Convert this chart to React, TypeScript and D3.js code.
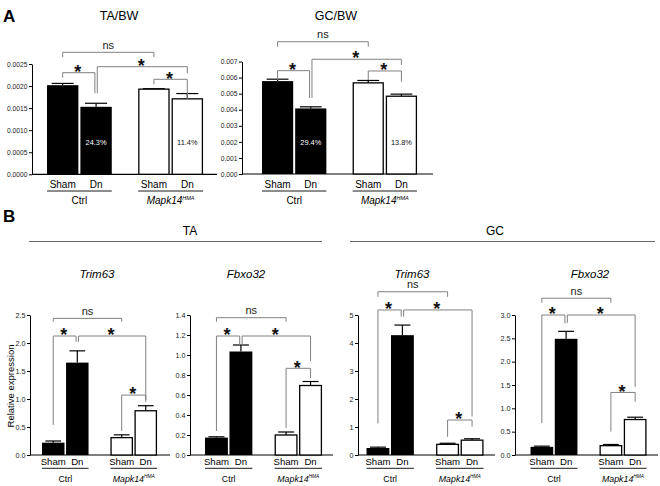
import { useEffect, useRef } from 'react';
import * as d3 from 'd3';

const GROUPS = ['Ctrl', 'Mapk14'];
const CONDITIONS = ['Sham', 'Dn'];

// A: muscle weight / body weight (Ctrl Sham, Ctrl Dn, Mapk14 Sham, Mapk14 Dn)
const TA_BW = [0.00202, 0.00153, 0.00193, 0.00171];
const TA_BW_SEM = [0.00004, 0.00008, 0.00001, 0.00012];
const TA_BW_LOSS = ['24.3%', '11.4%'];
const TA_BW_TICKS = [0, 0.0005, 0.001, 0.0015, 0.002, 0.0025];

const GC_BW = [0.00578, 0.00408, 0.00567, 0.00484];
const GC_BW_SEM = [0.00012, 0.0001, 0.00015, 0.00013];
const GC_BW_LOSS = ['29.4%', '13.8%'];
const GC_BW_TICKS = [0, 0.001, 0.002, 0.003, 0.004, 0.005, 0.006, 0.007];

// B: relative expression
const TA_TRIM63 = [0.22, 1.65, 0.31, 0.79];
const TA_TRIM63_SEM = [0.03, 0.21, 0.05, 0.09];
const TA_TRIM63_TICKS = [0, 0.5, 1, 1.5, 2, 2.5];

const TA_FBXO32 = [0.174, 1.035, 0.2, 0.695];
const TA_FBXO32_SEM = [0.008, 0.065, 0.03, 0.04];
const TA_FBXO32_TICKS = [0, 0.2, 0.4, 0.6, 0.8, 1, 1.2, 1.4];

const GC_TRIM63 = [0.25, 4.28, 0.38, 0.53];
const GC_TRIM63_SEM = [0.03, 0.36, 0.04, 0.05];
const GC_TRIM63_TICKS = [0, 1, 2, 3, 4, 5];

const GC_FBXO32 = [0.175, 2.49, 0.2, 0.76];
const GC_FBXO32_SEM = [0.015, 0.16, 0.025, 0.05];
const GC_FBXO32_TICKS = [0, 0.5, 1, 1.5, 2, 2.5, 3];

// brackets: [from bar, to bar, label, bracket level, left leg end, right leg end] (data units)
type Bracket = [number, number, string, number, number, number];
const TA_BW_BR: Bracket[] = [
  [0, 2, 'ns', 0.002765, 0.002659, 0.002659],
  [0, 1, '*', 0.002303, 0.00219, 0.001836],
  [1, 3, '*', 0.002439, 0.001836, 0.00229],
  [2, 3, '*', 0.002153, 0.00204, 0.001684],
];
const GC_BW_BR: Bracket[] = [
  [0, 2, 'ns', 0.00823, 0.00792, 0.00792],
  [0, 1, '*', 0.00643, 0.00585, 0.00473],
  [1, 3, '*', 0.00714, 0.00473, 0.00678],
  [2, 3, '*', 0.00641, 0.00585, 0.00574],
];
const TA_TRIM63_BR: Bracket[] = [
  [0, 2, 'ns', 2.44, 2.38, 2.38],
  [0, 1, '*', 2.125, 0.536, 2.02],
  [1, 3, '*', 2.125, 2.02, 0.95],
  [2, 3, '*', 1.07, 0.43, 0.98],
];
const TA_FBXO32_BR: Bracket[] = [
  [0, 2, 'ns', 1.373, 1.333, 1.333],
  [0, 1, '*', 1.19, 0.24, 1.1],
  [1, 3, '*', 1.19, 1.1, 0.94],
  [2, 3, '*', 0.867, 0.27, 0.77],
];
const GC_TRIM63_BR: Bracket[] = [
  [0, 2, 'ns', 5.83, 5.65, 5.65],
  [0, 1, '*', 5.18, 1.13, 4.94],
  [1, 3, '*', 5.18, 4.94, 1.37],
  [2, 3, '*', 1.25, 0.65, 1.01],
];
const GC_FBXO32_BR: Bracket[] = [
  [0, 2, 'ns', 3.36, 3.26, 3.26],
  [0, 1, '*', 3.0, 0.686, 2.82],
  [1, 3, '*', 3.0, 2.83, 1.46],
  [2, 3, '*', 1.34, 0.5, 1.14],
];

const FONT = '"Liberation Sans", Arial, Helvetica, sans-serif';

interface Panel {
  title: string;
  italic: boolean;
  titleX: number;
  titleY: number;
  titleSize: number;
  values: number[];
  sem: number[];
  ticks: number[];
  brackets: Bracket[];
  loss?: string[];
  fmt: string;
  axisX: number;
  bars: [number, number];
  xEnd: number;
  yTop: number;
  yBottom: number;
  padOuter: number;
  padInner: number;
  tickFont: number;
  catFont: number;
  catY: number;
  underY: number;
  groupFont: number;
  groupY: number;
  lossY?: number;
}

const A_COMMON = {
  italic: false, titleY: 19.5, titleSize: 12.5, padOuter: 0.29, padInner: 0.06,
  tickFont: 6.7, catFont: 10, catY: 188, underY: 191, groupFont: 10, groupY: 203.5, lossY: 144.5,
};
const B_COMMON = {
  italic: true, titleY: 277.5, titleSize: 11.5, padOuter: 0.32, padInner: 0.065,
  tickFont: 7.2, catFont: 9.6, catY: 465, underY: 468.3, groupFont: 8.8, groupY: 481.5,
  fmt: '.1f', yTop: 315, yBottom: 455,
};

const PANELS: Panel[] = [
  { ...A_COMMON, title: 'TA/BW', titleX: 119, values: TA_BW, sem: TA_BW_SEM, ticks: TA_BW_TICKS,
    brackets: TA_BW_BR, loss: TA_BW_LOSS, fmt: '.4f', axisX: 32, bars: [47, 203], xEnd: 217, yTop: 64, yBottom: 174.3 },
  { ...A_COMMON, title: 'GC/BW', titleX: 336, values: GC_BW, sem: GC_BW_SEM, ticks: GC_BW_TICKS,
    brackets: GC_BW_BR, loss: GC_BW_LOSS, fmt: '.3f', axisX: 242, bars: [262, 417], xEnd: 433, yTop: 61.5, yBottom: 174 },
  { ...B_COMMON, title: 'Trim63', titleX: 97, values: TA_TRIM63, sem: TA_TRIM63_SEM, ticks: TA_TRIM63_TICKS,
    brackets: TA_TRIM63_BR, axisX: 30, bars: [42, 157], xEnd: 170 },
  { ...B_COMMON, title: 'Fbxo32', titleX: 246, values: TA_FBXO32, sem: TA_FBXO32_SEM, ticks: TA_FBXO32_TICKS,
    brackets: TA_FBXO32_BR, axisX: 190, bars: [205, 322], xEnd: 333 },
  { ...B_COMMON, title: 'Trim63', titleX: 412, values: GC_TRIM63, sem: GC_TRIM63_SEM, ticks: GC_TRIM63_TICKS,
    brackets: GC_TRIM63_BR, fmt: 'd', axisX: 358, bars: [366.5, 483.5], xEnd: 495 },
  { ...B_COMMON, title: 'Fbxo32', titleX: 590, values: GC_FBXO32, sem: GC_FBXO32_SEM, ticks: GC_FBXO32_TICKS,
    brackets: GC_FBXO32_BR, axisX: 515, bars: [530.5, 646.5], xEnd: 658 },
];

type Sel = d3.Selection<SVGSVGElement, unknown, null, undefined>;

function drawPanel(svg: Sel, p: Panel) {
  const g = svg.append('g');
  const y = d3.scaleLinear().domain([0, p.ticks[p.ticks.length - 1]]).range([p.yBottom, p.yTop]);
  const outer = d3.scaleBand<string>().domain(GROUPS).range(p.bars).paddingInner(p.padOuter);
  const inner = d3.scaleBand<string>().domain(CONDITIONS).range([0, outer.bandwidth()]).paddingInner(p.padInner);
  const bw = inner.bandwidth();

  const bars = GROUPS.flatMap((grp, gi) =>
    CONDITIONS.map((c, ci) => ({
      grp, c, gi, ci,
      v: p.values[gi * 2 + ci],
      e: p.sem[gi * 2 + ci],
      x: (outer(grp) ?? 0) + (inner(c) ?? 0),
    }))
  );
  const cx = (i: number) => bars[i].x + bw / 2;

  // title
  g.append('text')
    .attr('x', p.titleX).attr('y', p.titleY)
    .attr('text-anchor', 'middle')
    .attr('font-size', p.titleSize)
    .attr('font-style', p.italic ? 'italic' : 'normal')
    .text(p.title);

  // y axis
  const ax = g.append('g')
    .attr('transform', `translate(${p.axisX},0)`)
    .call(d3.axisLeft(y).tickValues(p.ticks).tickSize(3).tickSizeOuter(0).tickPadding(1.5)
      .tickFormat(d3.format(p.fmt) as any));
  ax.attr('font-family', FONT).attr('font-size', p.tickFont);
  ax.select('.domain').attr('stroke', '#000').attr('stroke-width', 1);
  ax.selectAll('.tick line').attr('stroke', '#000');
  ax.selectAll('.tick text').attr('fill', '#222');

  // x baseline
  g.append('line')
    .attr('x1', p.axisX).attr('x2', p.xEnd)
    .attr('y1', y(0)).attr('y2', y(0))
    .attr('stroke', '#000').attr('stroke-width', 1.2);

  // error bars (upper only)
  const capW = bw * 0.7;
  bars.forEach(b => {
    const yt = y(b.v + b.e);
    g.append('line')
      .attr('x1', b.x + bw / 2).attr('x2', b.x + bw / 2)
      .attr('y1', y(b.v)).attr('y2', yt)
      .attr('stroke', '#000').attr('stroke-width', 1.2);
    g.append('line')
      .attr('x1', b.x + bw / 2 - capW / 2).attr('x2', b.x + bw / 2 + capW / 2)
      .attr('y1', yt).attr('y2', yt)
      .attr('stroke', '#000').attr('stroke-width', 1.2);
  });

  // bars
  bars.forEach(b => {
    const filled = b.gi === 0;
    g.append('rect')
      .attr('x', filled ? b.x : b.x + 0.6)
      .attr('y', y(b.v))
      .attr('width', filled ? bw : bw - 1.2)
      .attr('height', y(0) - y(b.v))
      .attr('fill', filled ? '#000' : '#fff')
      .attr('stroke', '#000')
      .attr('stroke-width', filled ? 0 : 1.3);
  });

  // loss percentages inside Dn bars
  if (p.loss && p.lossY !== undefined) {
    bars.filter(b => b.ci === 1).forEach((b, k) => {
      g.append('text')
        .attr('x', b.x + bw / 2).attr('y', p.lossY!)
        .attr('text-anchor', 'middle')
        .attr('font-size', 7.4)
        .attr('fill', b.gi === 0 ? '#fff' : '#111')
        .text(p.loss![k]);
    });
  }

  // category labels
  bars.forEach(b => {
    g.append('text')
      .attr('x', b.x + bw / 2).attr('y', p.catY)
      .attr('text-anchor', 'middle')
      .attr('font-size', p.catFont)
      .text(b.c);
  });

  // group underline + label
  GROUPS.forEach(grp => {
    const x0 = outer(grp) ?? 0;
    const x1 = x0 + outer.bandwidth();
    g.append('line')
      .attr('x1', x0).attr('x2', x1)
      .attr('y1', p.underY).attr('y2', p.underY)
      .attr('stroke', '#000').attr('stroke-width', 0.9);
    const t = g.append('text')
      .attr('x', (x0 + x1) / 2).attr('y', p.groupY)
      .attr('text-anchor', 'middle')
      .attr('font-size', p.groupFont);
    if (grp === 'Ctrl') {
      t.text('Ctrl');
    } else {
      t.append('tspan').attr('font-style', 'italic').text('Mapk14');
      t.append('tspan').attr('font-style', 'italic')
        .attr('font-size', p.groupFont * 0.55).attr('dy', -p.groupFont * 0.38).text('HMA');
    }
  });

  // significance brackets
  const stars = p.brackets.filter(b => b[2] !== 'ns');
  p.brackets.forEach(([a, b, label, top, la, lb]) => {
    let xa = cx(a);
    let xb = cx(b);
    if (label !== 'ns') {
      if (stars.some(s => s[1] === a)) xa += 1.2;
      if (stars.some(s => s[0] === b)) xb -= 1.2;
    }
    g.append('path')
      .attr('d', `M${xa},${y(la)}V${y(top)}H${xb}V${y(lb)}`)
      .attr('fill', 'none')
      .attr('stroke', '#808080')
      .attr('stroke-width', 1);
    const mx = (xa + xb) / 2;
    if (label === 'ns') {
      g.append('text')
        .attr('x', mx).attr('y', y(top) - 3.4)
        .attr('text-anchor', 'middle')
        .attr('font-size', 11)
        .attr('fill', '#222')
        .text('ns');
    } else {
      g.append('text')
        .attr('x', mx - 1).attr('y', y(top) + 5.2)
        .attr('text-anchor', 'middle')
        .attr('font-size', 18)
        .attr('font-weight', 'bold')
        .attr('fill', '#111')
        .text('*');
    }
  });
}

export default function App() {
  const ref = useRef<SVGSVGElement>(null);

  useEffect(() => {
    if (!ref.current) return;
    const svg = d3.select(ref.current);
    svg.selectAll('*').remove();
    svg.attr('font-family', FONT);

    svg.append('rect').attr('width', 660).attr('height', 486).attr('fill', '#fff');

    // panel letters
    svg.append('text').attr('x', 3).attr('y', 22).attr('font-size', 17).attr('font-weight', 'bold').text('A');
    svg.append('text').attr('x', 3).attr('y', 222).attr('font-size', 17).attr('font-weight', 'bold').text('B');

    // tissue headers in B
    [['TA', 190, 29, 322], ['GC', 495, 350, 655]].forEach(([label, tx, x0, x1]) => {
      svg.append('text')
        .attr('x', tx as number).attr('y', 235)
        .attr('text-anchor', 'middle')
        .attr('font-size', 12)
        .text(label as string);
      svg.append('line')
        .attr('x1', x0 as number).attr('x2', x1 as number)
        .attr('y1', 241.5).attr('y2', 241.5)
        .attr('stroke', '#666').attr('stroke-width', 1);
    });

    PANELS.forEach(p => drawPanel(svg as Sel, p));

    // y axis title
    svg.append('text')
      .attr('transform', 'translate(13.5,386) rotate(-90)')
      .attr('text-anchor', 'middle')
      .attr('font-size', 9.5)
      .text('Relative expression');
  }, []);

  return (
    <svg
      ref={ref}
      width={660}
      height={486}
      style={{ position: 'absolute', left: 0, top: 0, display: 'block' }}
    />
  );
}
